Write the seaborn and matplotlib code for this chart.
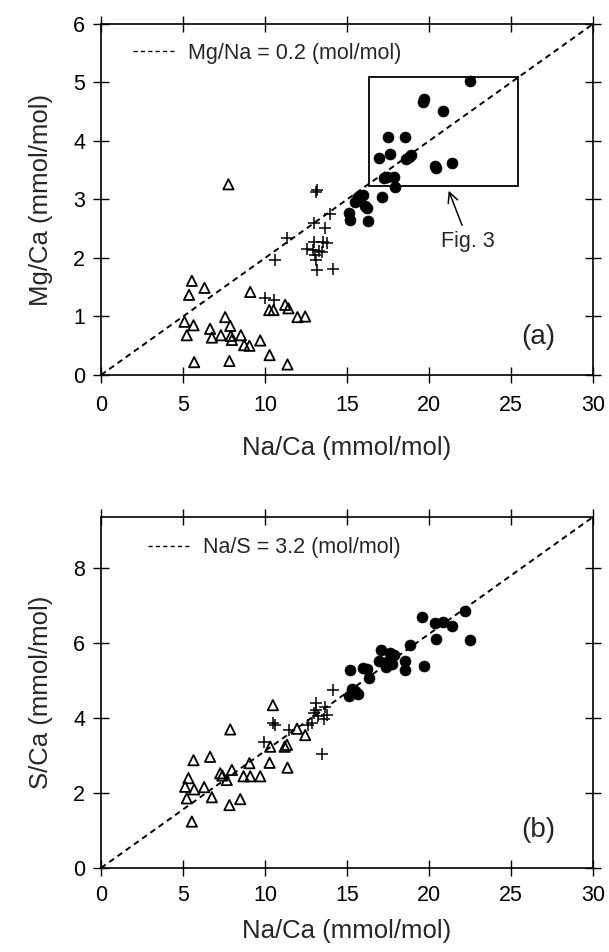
import numpy as np
import pandas as pd
import seaborn as sns
import matplotlib
matplotlib.use("Agg")
import matplotlib.pyplot as plt
from matplotlib.lines import Line2D
from matplotlib.patches import Rectangle

# ---------------- data ----------------
# panel (a): Mg/Ca vs Na/Ca
a_tri_x = [5.54, 5.37, 6.31, 9.10, 5.09, 5.64, 5.23, 7.57, 7.88, 6.65, 6.76, 7.31, 7.92, 7.98,
           8.53, 8.73, 9.05, 9.71, 10.28, 5.68, 7.83, 11.37, 10.26, 10.52, 11.23, 11.43, 11.98, 12.45, 7.77]
a_tri_y = [1.61, 1.37, 1.49, 1.42, 0.91, 0.85, 0.68, 0.99, 0.84, 0.79, 0.64, 0.68, 0.67, 0.60,
           0.68, 0.51, 0.50, 0.59, 0.34, 0.22, 0.24, 0.18, 1.11, 1.11, 1.20, 1.14, 0.99, 1.00, 3.26]

a_plus_x = [13.11, 13.15, 13.98, 12.96, 13.63, 11.37, 12.96, 13.55, 13.80, 12.56, 12.92, 13.27,
            13.47, 13.07, 13.11, 10.62, 13.17, 14.15, 10.01, 10.52]
a_plus_y = [3.12, 3.16, 2.75, 2.59, 2.51, 2.35, 2.28, 2.27, 2.25, 2.15, 2.14, 2.12,
            2.11, 2.05, 1.97, 1.97, 1.79, 1.81, 1.31, 1.29]

a_dot_x = [22.48, 19.64, 19.72, 20.86, 17.50, 18.54, 16.97, 17.64, 18.58, 18.91, 18.75, 20.39,
           20.43, 21.43, 17.44, 17.85, 17.91, 17.23, 17.11, 15.67, 15.51, 16.12, 16.24, 15.10,
           15.20, 16.26, 15.95]
a_dot_y = [5.03, 4.66, 4.71, 4.52, 4.06, 4.07, 3.71, 3.78, 3.70, 3.76, 3.73, 3.57,
           3.53, 3.62, 3.39, 3.39, 3.22, 3.36, 3.04, 3.05, 2.96, 2.89, 2.85, 2.77,
           2.65, 2.64, 3.07]

# panel (b): S/Ca vs Na/Ca
b_tri_x = [10.48, 7.88, 11.95, 12.45, 10.32, 11.34, 5.64, 6.65, 9.05, 10.28, 11.37, 7.98, 7.27,
           7.40, 7.67, 8.69, 9.10, 9.71, 5.33, 5.13, 5.68, 6.29, 5.23, 6.76, 7.83, 8.49, 5.54, 11.20]
b_tri_y = [4.35, 3.70, 3.72, 3.55, 3.24, 3.29, 2.88, 2.97, 2.80, 2.81, 2.68, 2.62, 2.53,
           2.47, 2.35, 2.45, 2.45, 2.45, 2.40, 2.17, 2.10, 2.16, 1.86, 1.89, 1.68, 1.84, 1.24, 3.24]

b_plus_x = [14.12, 13.11, 13.68, 13.11, 12.96, 13.78, 13.25, 13.57, 12.86, 10.48, 10.62, 11.44,
            9.91, 13.47, 12.60]
b_plus_y = [4.75, 4.40, 4.31, 4.22, 4.13, 4.09, 4.06, 3.97, 3.86, 3.86, 3.82, 3.69,
            3.37, 3.04, 3.82]

b_dot_x = [19.58, 20.39, 20.86, 21.41, 22.22, 20.43, 22.49, 18.82, 17.09, 17.64, 17.89, 16.93,
           17.44, 17.74, 18.52, 18.52, 19.72, 17.40, 15.20, 15.98, 16.20, 16.32, 15.30, 15.10,
           15.65, 15.47]
b_dot_y = [6.70, 6.54, 6.56, 6.47, 6.86, 6.12, 6.09, 5.95, 5.82, 5.75, 5.69, 5.54,
           5.51, 5.45, 5.54, 5.29, 5.40, 5.36, 5.29, 5.35, 5.31, 5.07, 4.77, 4.60,
           4.65, 4.73]

mg_na_ratio = 0.2      # mol/mol
na_s_ratio = 3.2       # mol/mol
x_ticks = [0, 5, 10, 15, 20, 25, 30]
a_yticks = [0, 1, 2, 3, 4, 5, 6]
b_yticks = [0, 2, 4, 6, 8]

# ---------------- style ----------------
sns.set_theme(style="ticks")
plt.rcParams["font.family"] = ["Liberation Sans", "DejaVu Sans"]
plt.rcParams["axes.linewidth"] = 1.0

fig = plt.figure(figsize=(6.09, 9.52), dpi=100)
ax_a = fig.add_axes([101 / 609, 1 - 375 / 952, 492 / 609, 351 / 952])
ax_b = fig.add_axes([101 / 609, 1 - 868 / 952, 492 / 609, 351 / 952])

TICK_FS = 15.5
LEG_FS = 15.5
LABEL_FS = 18.5


def draw_panel(ax, tri_x, tri_y, plus_x, plus_y, dot_x, dot_y, slope, ymax, yticks,
               ylabel, leg_label, leg_x, panel_label, panel_y, tick_pad, xlab_pad):
    line_x = np.array([0.0, 30.0])
    sns.lineplot(x=line_x, y=line_x * slope, ax=ax, color="black", lw=1.4,
                 dashes=False, legend=False)
    ax.lines[-1].set_dashes((3, 2.2))
    sns.scatterplot(x=tri_x, y=tri_y, ax=ax, marker="^", s=55, color="black",
                    facecolor="none", edgecolor="black", linewidth=1.3, zorder=3)
    sns.scatterplot(x=plus_x, y=plus_y, ax=ax, marker="+", s=70, color="black",
                    linewidth=1.1, zorder=3)
    sns.scatterplot(x=dot_x, y=dot_y, ax=ax, marker="o", s=62, color="black",
                    edgecolor="black", linewidth=0.5, zorder=4)
    ax.set_xlim(0, 30)
    ax.set_ylim(0, ymax)
    ax.set_xticks(x_ticks)
    ax.set_yticks(yticks)
    ax.tick_params(direction="inout", length=11, width=1.0, top=True, right=True,
                   labelsize=TICK_FS, colors="black")
    ax.tick_params(axis="x", pad=tick_pad)
    ax.tick_params(axis="y", pad=6)
    for sp in ax.spines.values():
        sp.set_visible(True)
        sp.set_color("black")
        sp.set_linewidth(1.2)
    ax.set_xlabel("Na/Ca (mmol/mol)", fontsize=LABEL_FS, labelpad=xlab_pad)
    ax.set_ylabel(ylabel, fontsize=LABEL_FS, labelpad=14)
    handle = Line2D([], [], color="black", lw=1.0, dashes=(3, 2.3))
    ax.legend([handle], [leg_label], loc="center left", bbox_to_anchor=leg_x,
              frameon=False, fontsize=LEG_FS, handlelength=1.95, handletextpad=0.6,
              borderpad=0, borderaxespad=0)
    ax.text(25.6, panel_y, panel_label, fontsize=20, va="center", ha="left")


draw_panel(ax_a, a_tri_x, a_tri_y, a_plus_x, a_plus_y, a_dot_x, a_dot_y,
           mg_na_ratio, 6, a_yticks, "Mg/Ca (mmol/mol)", "Mg/Na = 0.2 (mol/mol)",
           (0.065, 0.917), "(a)", 0.65, 9, 14)
draw_panel(ax_b, b_tri_x, b_tri_y, b_plus_x, b_plus_y, b_dot_x, b_dot_y,
           1 / na_s_ratio, 30 / na_s_ratio, b_yticks, "S/Ca (mmol/mol)", "Na/S = 3.2 (mol/mol)",
           (0.096, 0.912), "(b)", 1.01, 7, 9)

# Fig. 3 box and arrow in panel (a)
ax_a.add_patch(Rectangle((16.35, 3.23), 9.07, 1.86, fill=False, ec="black", lw=1.3, zorder=2))
ax_a.annotate("Fig. 3", xy=(21.2, 3.15), xytext=(22.4, 2.28), fontsize=LEG_FS,
              ha="center", va="center",
              arrowprops=dict(arrowstyle="->", color="black", lw=1.1,
                              shrinkA=2, shrinkB=0, mutation_scale=18))

fig.savefig("out.png", dpi=100)
